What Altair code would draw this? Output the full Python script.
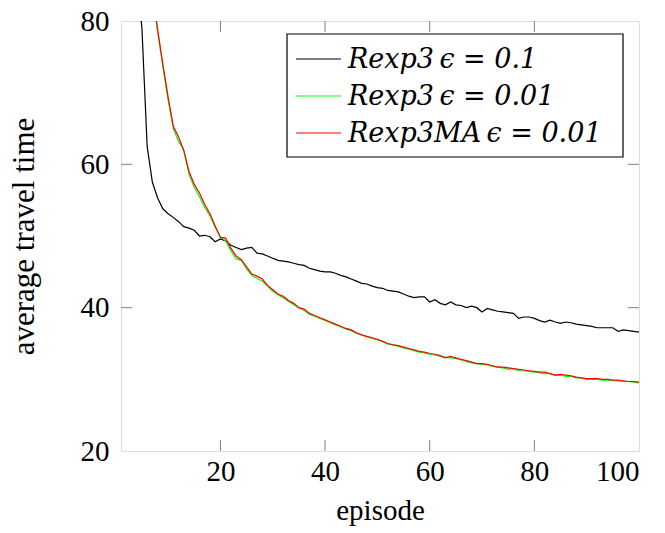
import altair as alt
import pandas as pd

episodes = list(range(1, 101))

rexp3_01 = [150, 120, 98, 86, 79.0, 62.5, 57.5, 55.3, 53.8, 53.1,
            52.6, 52.0, 51.3, 51.1, 50.8, 50.0, 50.1, 49.9, 49.2, 49.6,
            49.3, 48.7, 48.4, 48.1, 48.3, 48.4, 47.6, 47.5, 47.2, 46.9,
            46.6, 46.5, 46.4, 46.2, 46.0, 45.9, 45.5, 45.3, 45.1, 45.0,
            45.0, 44.8, 44.5, 44.3, 44.0, 43.7, 43.4, 43.3, 43.0, 42.8,
            42.7, 42.4, 42.3, 42.2, 41.9, 41.6, 41.4, 41.5, 41.5, 40.8,
            41.1, 40.6, 40.4, 40.8, 40.4, 40.3, 40.0, 40.2, 40.0, 39.4,
            39.9, 39.7, 39.5, 39.4, 39.3, 39.2, 38.5, 38.7, 38.7, 38.5,
            38.2, 38.0, 38.25, 38.0, 37.8, 38.0, 37.9, 37.7, 37.6, 37.5,
            37.4, 37.2, 37.2, 37.2, 37.2, 36.7, 36.9, 36.8, 36.7, 36.6]

rexp3_001 = [148, 128, 113, 103, 95, 89, 84.0, 78.5, 73.6, 69.0,
             65.0, 63.2, 62.0, 58.6, 56.8, 55.5, 54.0, 52.8, 51.2, 49.9,
             49.3, 48.0, 46.8, 46.6, 45.4, 44.5, 44.1, 43.7, 43.0, 42.3,
             41.8, 41.4, 40.9, 40.4, 40.0, 39.6, 39.1, 38.8, 38.5, 38.2,
             37.9, 37.6, 37.3, 37.0, 36.8, 36.4, 36.2, 35.9, 35.7, 35.5,
             35.3, 34.9, 34.8, 34.6, 34.4, 34.2, 34.0, 33.8, 33.7, 33.5,
             33.4, 33.2, 33.1, 33.0, 32.9, 32.7, 32.5, 32.3, 32.2, 32.1,
             32.0, 31.8, 31.7, 31.6, 31.4, 31.5, 31.2, 31.2, 31.1, 31.0,
             30.9, 30.8, 30.8, 30.5, 30.6, 30.4, 30.4, 30.2, 30.2, 30.0,
             30.0, 30.0, 29.9, 29.9, 29.8, 29.8, 29.7, 29.7, 29.6, 29.5]

rexp3ma_001 = [150, 130, 115, 104, 96, 90, 84.5, 78.8, 74.0, 69.4,
               65.3, 63.8, 61.9, 59.0, 57.2, 56.0, 54.4, 53.1, 51.4, 49.8,
               49.7, 48.3, 47.2, 46.7, 45.7, 44.7, 44.4, 44.0, 43.1, 42.5,
               41.9, 41.6, 41.0, 40.6, 40.0, 39.8, 39.2, 38.9, 38.6, 38.3,
               38.0, 37.7, 37.4, 37.1, 36.9, 36.5, 36.2, 36.0, 35.8, 35.6,
               35.3, 35.0, 34.8, 34.7, 34.5, 34.3, 34.1, 33.9, 33.8, 33.6,
               33.5, 33.3, 33.0, 33.2, 33.0, 32.8, 32.6, 32.4, 32.2, 32.2,
               32.1, 31.9, 31.7, 31.7, 31.6, 31.5, 31.4, 31.3, 31.2, 31.1,
               31.0, 31.0, 30.8, 30.6, 30.7, 30.6, 30.5, 30.3, 30.2, 30.1,
               30.1, 30.1, 30.0, 30.0, 29.9, 29.9, 29.8, 29.7, 29.7, 29.6]

series_names = ["Rexp3\u2009\u03f5 = 0.1", "Rexp3\u2009\u03f5 = 0.01",
                "Rexp3MA\u2009\u03f5 = 0.01"]
series_colors = ["#000000", "#00ff00", "#ff0000"]
x_ticks = [20, 40, 60, 80, 100]
y_ticks = [20, 40, 60, 80]

rows = []
for name, vals in zip(series_names, [rexp3_01, rexp3_001, rexp3ma_001]):
    for e, v in zip(episodes, vals):
        rows.append({"episode": e, "value": v, "series": name})
df = pd.DataFrame(rows)

W, H = 518, 430
FONT = "Liberation Serif"
ITALIC_FONT = "DejaVu Serif"

xscale = alt.Scale(domain=[1, 100], nice=False, zero=False)
yscale = alt.Scale(domain=[20, 80], nice=False, zero=False)

lines = alt.Chart(df).mark_line(clip=True, strokeWidth=1.2).encode(
    x=alt.X("episode:Q", scale=xscale,
            axis=alt.Axis(values=x_ticks, title="episode", ticks=False, domain=False,
                          grid=False, labelPadding=6, labelFontSize=29, labelFont=FONT,
                          labelColor="black", titleFont=FONT, titleFontSize=29,
                          titleFontWeight="normal", titleColor="black",
                          titleY=68, titleBaseline="alphabetic")),
    y=alt.Y("value:Q", scale=yscale,
            axis=alt.Axis(values=y_ticks, title="average travel time", ticks=False,
                          domain=False, grid=False, labelPadding=12, labelFontSize=29,
                          labelFont=FONT, labelColor="black", titleFont=FONT,
                          titleFontSize=31, titleFontWeight="normal", titleColor="black",
                          titleX=-88, titleY=H / 2, titleAngle=-90,
                          titleBaseline="alphabetic", titleAlign="center")),
    color=alt.Color("series:N", scale=alt.Scale(domain=series_names, range=series_colors),
                    legend=None),
    detail="series:N",
)

xt = pd.DataFrame({"t": x_ticks[:-1]})
yt = pd.DataFrame({"t": y_ticks[1:-1]})
tick_col = "#808080"
TL = 11
xtick_top = alt.Chart(xt).mark_rule(color=tick_col, strokeWidth=1).encode(
    x=alt.X("t:Q", scale=xscale), y=alt.value(0), y2=alt.value(TL))
xtick_bot = alt.Chart(xt).mark_rule(color=tick_col, strokeWidth=1).encode(
    x=alt.X("t:Q", scale=xscale), y=alt.value(H - TL), y2=alt.value(H))
ytick_l = alt.Chart(yt).mark_rule(color=tick_col, strokeWidth=1).encode(
    y=alt.Y("t:Q", scale=yscale), x=alt.value(0), x2=alt.value(TL))
ytick_r = alt.Chart(yt).mark_rule(color=tick_col, strokeWidth=1).encode(
    y=alt.Y("t:Q", scale=yscale), x=alt.value(W - TL), x2=alt.value(W))

LX0, LX1, LY0, LY1 = 166, 502, 13, 136
box = alt.Chart(pd.DataFrame({"a": [0]})).mark_rect(
    fill="white", stroke="black", strokeWidth=1.2).encode(
    x=alt.value(LX0), x2=alt.value(LX1), y=alt.value(LY0), y2=alt.value(LY1))

leg_layers = []
for name, col, ry in zip(series_names, series_colors, [38, 75, 112]):
    d = pd.DataFrame({"series": [name]})
    leg_layers.append(alt.Chart(d).mark_rule(color=col, strokeWidth=1.2).encode(
        x=alt.value(175), x2=alt.value(220), y=alt.value(ry)))
    leg_layers.append(alt.Chart(d).mark_text(
        align="left", baseline="middle", font=ITALIC_FONT, fontSize=27,
        fontStyle="italic", color="black").encode(
        x=alt.value(227), y=alt.value(ry + 1), text="series:N"))

chart = alt.layer(lines, xtick_top, xtick_bot, ytick_l, ytick_r, box, *leg_layers).properties(
    width=W, height=H,
    autosize=alt.AutoSizeParams(type="none"),
    padding={"left": 121, "top": 21, "right": 26, "bottom": 82},
).configure_view(stroke="#222222", strokeWidth=1.3).configure(background="white")

chart.save("out.html", embed_options={"renderer": "svg", "actions": False})
